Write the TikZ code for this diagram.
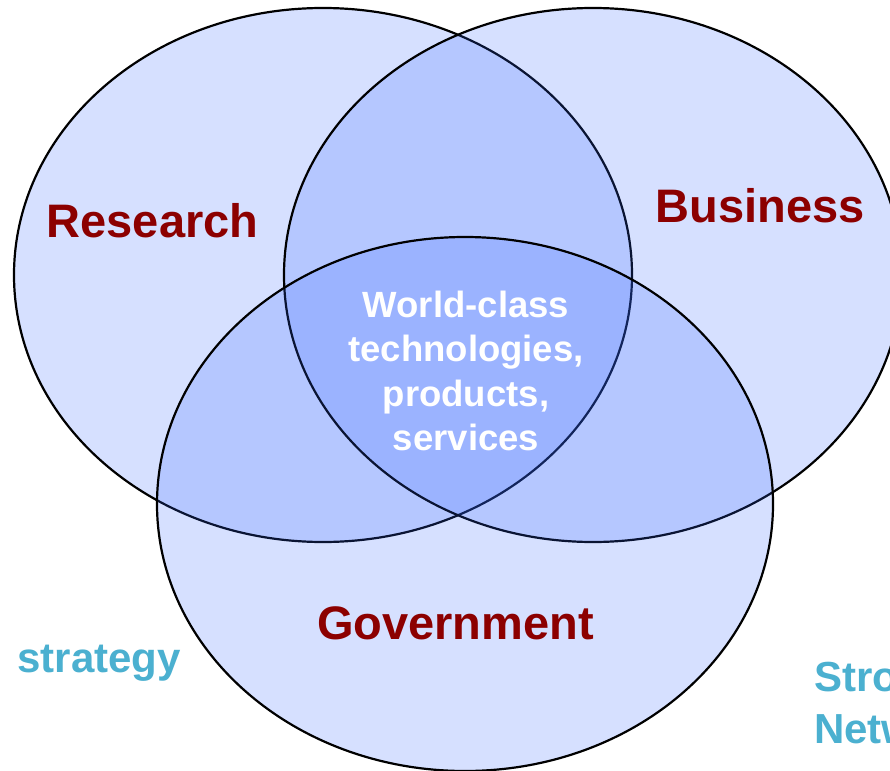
\documentclass[tikz,border=0pt]{standalone}
\usepackage{fontspec}
\setmainfont{Liberation Sans}
\definecolor{fillblue}{RGB}{51,102,255}
\definecolor{labelred}{RGB}{140,0,0}
\definecolor{tealtext}{RGB}{75,176,208}
\begin{document}
\begin{tikzpicture}[x=1pt,y=-1pt,
  venn/.style={draw=black, line width=2.2pt, fill=fillblue, fill opacity=0.2, draw opacity=1},
  setlabel/.style={text=labelred, font=\fontsize{47}{56}\selectfont\bfseries, inner sep=0pt, anchor=base},
  corelabel/.style={text=white, font=\fontsize{36.5}{44.3}\selectfont\bfseries, align=center, inner sep=0pt, anchor=north},
  sidelabel/.style={text=tealtext, font=\fontsize{42}{52}\selectfont\bfseries, inner sep=0pt}]
\useasboundingbox (0,0) rectangle (890,770);
\clip (0,0) rectangle (890,770);
\fill[white] (0,0) rectangle (890,770);
\draw[venn] (323,275) ellipse [x radius=309, y radius=267];
\draw[venn] (593,275) ellipse [x radius=309, y radius=267];
\draw[venn] (465,504) ellipse [x radius=308, y radius=267];
\node[setlabel] (research) at (152.5,237) {Research};
\node[setlabel] (business) at (760,222) {Business};
\node[setlabel] (government) at (455.5,639) {Government};
\node[corelabel] (core) at (466,291) {World-class\\technologies,\\products,\\services};
\node[sidelabel, anchor=base east] (strategy) at (181,672) {t: strategy};
\node[sidelabel, anchor=base west] (strong) at (814,691) {Stro};
\node[sidelabel, anchor=base west] (network) at (814,743) {Netw};
\end{tikzpicture}
\end{document}
